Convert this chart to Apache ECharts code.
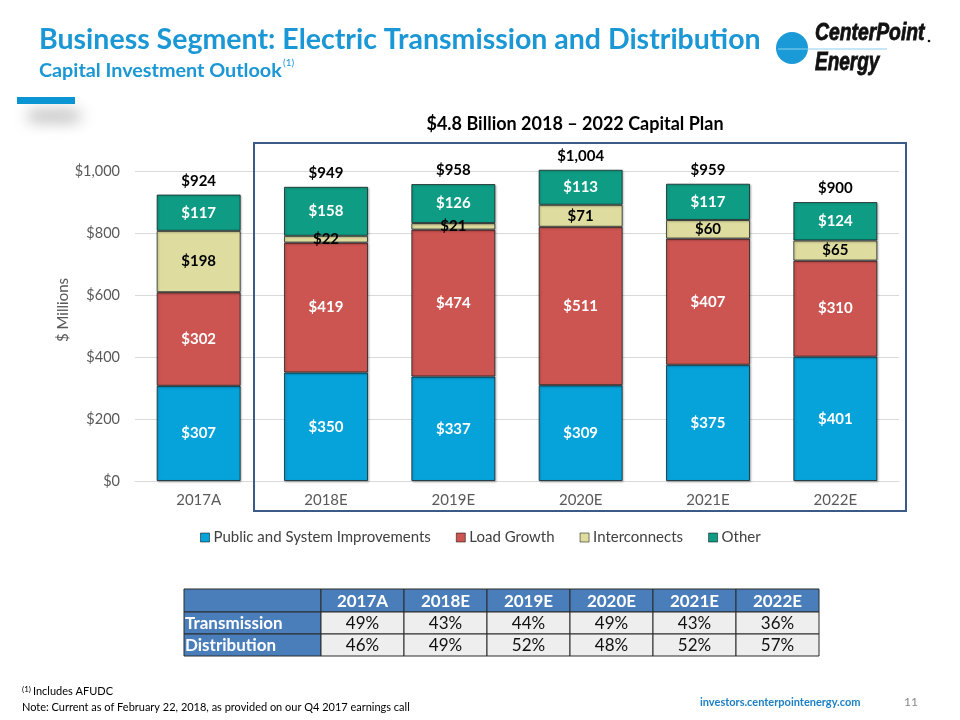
<!DOCTYPE html>
<html><head><meta charset="utf-8">
<script src="https://cdn.jsdelivr.net/npm/echarts@6/dist/echarts.min.js"></script>
<style>html,body{margin:0;padding:0;background:#fff}#c{width:960px;height:720px}</style>
</head><body><div id="c"></div>
<script>
// ---- data ----
const categories = ['2017A', '2018E', '2019E', '2020E', '2021E', '2022E'];
const seriesNames = ['Public and System Improvements', 'Load Growth', 'Interconnects', 'Other'];
const publicSystem = [307, 350, 337, 309, 375, 401];
const loadGrowth = [302, 419, 474, 511, 407, 310];
const interconnects = [198, 22, 21, 71, 60, 65];
const other = [117, 158, 126, 113, 117, 124];
const totals = [924, 949, 958, 1004, 959, 900];
const transmissionPct = ['49%', '43%', '44%', '49%', '43%', '36%'];
const distributionPct = ['46%', '49%', '52%', '48%', '52%', '57%'];
const tableRowNames = ['Transmission', 'Distribution'];

// ---- styling ----
const FONT = 'Lato, "Open Sans", sans-serif';
const colors = ['#06A2DA', '#CC5451', '#DEDC9F', '#0E9C84'];
const labelColors = ['#fff', '#fff', '#000', '#fff'];
const money = v => '$' + Number(v).toLocaleString('en-US');

const chart = echarts.init(document.getElementById('c'), null, {renderer: 'canvas'});

const seriesData = [publicSystem, loadGrowth, interconnects, other];
const series = seriesData.map((d, i) => ({
  name: seriesNames[i],
  type: 'bar',
  stack: 'capex',
  data: d,
  clip: false,
  barCategoryGap: '34%',
  barGap: '-100%',
  z: 3,
  itemStyle: {color: colors[i], borderColor: 'rgba(20,30,30,0.75)', borderWidth: 1,
    shadowColor: 'rgba(0,0,0,0.25)', shadowBlur: 2, shadowOffsetX: 1, shadowOffsetY: 1},
  label: {show: true, position: 'inside', formatter: p => money(p.value),
    color: labelColors[i], fontFamily: FONT, fontWeight: 'bold', fontSize: 15}
}));
series.push({
  name: 'Total', type: 'bar', data: totals, clip: false,
  barCategoryGap: '34%', barGap: '-100%', z: 1,
  itemStyle: {color: 'rgba(0,0,0,0)'},
  label: {show: true, position: 'top', distance: 6, formatter: p => money(p.value),
    color: '#000', fontFamily: FONT, fontWeight: 'bold', fontSize: 15},
  tooltip: {show: false}
});

// table graphics
const tbl = [];
const tX = 184, tY = 589, firstW = 137, colW = 83, rowH = [23, 22, 22];
const headerBg = '#4A7EBB', cellBg = '#EEEEEE', lineC = '#2b2b2b';
let yy = tY;
for (let r = 0; r < 3; r++) {
  let xx = tX;
  for (let c = 0; c < 7; c++) {
    const w = c === 0 ? firstW : colW;
    const isHead = r === 0 || c === 0;
    tbl.push({type: 'rect', shape: {x: xx, y: yy, width: w, height: rowH[r]},
      style: {fill: isHead ? headerBg : cellBg, stroke: lineC, lineWidth: 1}});
    let txt = '';
    if (r === 0 && c > 0) txt = categories[c - 1];
    if (r > 0 && c === 0) txt = tableRowNames[r - 1];
    if (r > 0 && c > 0) txt = (r === 1 ? transmissionPct : distributionPct)[c - 1];
    if (txt) {
      tbl.push({type: 'text', x: c === 0 ? xx + 1 : xx + w / 2, y: yy + rowH[r] / 2 + 1,
        style: {text: txt, textAlign: c === 0 ? 'left' : 'center', textVerticalAlign: 'middle',
          font: (isHead ? 'bold ' : '') + '17px ' + FONT, fill: isHead ? '#fff' : '#111'}});
    }
    xx += w;
  }
  yy += rowH[r];
}

const LOGO_FONT = '"Liberation Sans", Arial, sans-serif';
const graphics = [
  // title
  {type: 'text', x: 39, y: 40, style: {text: 'Business Segment: Electric Transmission and Distribution',
    textVerticalAlign: 'middle', font: 'bold 28.5px ' + FONT, fill: '#1A97D4'}},
  {type: 'text', x: 39, y: 71, style: {text: 'Capital Investment Outlook',
    textVerticalAlign: 'middle', font: 'bold 19.8px ' + FONT, fill: '#1A97D4'}},
  {type: 'text', x: 283, y: 63, style: {text: '(1)', textVerticalAlign: 'middle',
    font: '10px ' + FONT, fill: '#1A97D4'}},
  // decoration: soft shadow (shape drawn off-screen, only its shadow shows)
  {type: 'rect', shape: {x: 28, y: -200, width: 52, height: 8, r: 4},
    style: {fill: '#000', shadowBlur: 16, shadowColor: 'rgba(0,0,0,0.4)', shadowOffsetY: 312}},
  {type: 'rect', shape: {x: 17, y: 97, width: 58, height: 7}, style: {fill: '#0A95D2'}},
  // logo
  {type: 'circle', shape: {cx: 792, cy: 48, r: 16}, style: {fill: '#1A9AD6'}},
  {type: 'line', shape: {x1: 778, y1: 49, x2: 887, y2: 49}, style: {stroke: '#8ED0F0', lineWidth: 1.2}, z: 10},
  {type: 'text', x: 815, y: 34, scaleX: 0.84, style: {text: 'CenterPoint', textVerticalAlign: 'middle',
    font: 'italic bold 23px ' + LOGO_FONT, fill: '#111', stroke: '#111', lineWidth: 0.8}},
  {type: 'circle', shape: {cx: 929, cy: 41, r: 1.3}, style: {fill: '#111'}},
  {type: 'text', x: 815, y: 63, scaleX: 0.76, style: {text: 'Energy', textVerticalAlign: 'middle',
    font: 'italic bold 25px ' + LOGO_FONT, fill: '#111', stroke: '#111', lineWidth: 0.8}},
  // chart subtitle
  {type: 'text', x: 575, y: 124, style: {text: '$4.8 Billion 2018 \u2013 2022 Capital Plan',
    textAlign: 'center', textVerticalAlign: 'middle', font: 'bold 18px ' + FONT, fill: '#000'}},
  // frame
  {type: 'rect', shape: {x: 254, y: 143, width: 652, height: 368}, z: 5,
    style: {fill: 'none', stroke: '#3A5A88', lineWidth: 2}},
  // y axis title
  {type: 'text', x: 63, y: 310, rotation: Math.PI / 2, style: {text: '$ Millions',
    textAlign: 'center', textVerticalAlign: 'middle', font: '15px ' + FONT, fill: '#595959'}},
  // footnotes
  {type: 'text', x: 22, y: 689, style: {text: '(1)', textVerticalAlign: 'middle', font: '8px ' + FONT, fill: '#000'}},
  {type: 'text', x: 33, y: 691, scaleX: 0.915, style: {text: 'Includes AFUDC', textVerticalAlign: 'middle', font: '12px ' + FONT, fill: '#000'}},
  {type: 'text', x: 22, y: 707, scaleX: 0.915, style: {text: 'Note: Current as of February 22, 2018, as provided on our Q4 2017 earnings call',
    textVerticalAlign: 'middle', font: '12px ' + FONT, fill: '#000'}},
  {type: 'text', x: 700, y: 702, style: {text: 'investors.centerpointenergy.com', textVerticalAlign: 'middle',
    font: 'bold 11px ' + FONT, fill: '#1A7FC4'}},
  {type: 'text', x: 904, y: 702, style: {text: '11', textVerticalAlign: 'middle', font: '12px ' + FONT, fill: '#888'}}
].concat(tbl);

chart.setOption({
  animation: false,
  backgroundColor: '#fff',
  grid: {left: 135, right: 61, top: 171, bottom: 239, containLabel: false},
  legend: {
    data: seriesNames, left: 195, top: 525, itemWidth: 9, itemHeight: 9, itemGap: 25, icon: 'rect',
    textStyle: {fontFamily: FONT, fontSize: 15, color: '#404040', padding: [0, 0, 0, -1]},
    itemStyle: {borderColor: 'rgba(0,0,0,0.5)', borderWidth: 1}
  },
  xAxis: {
    type: 'category', data: categories,
    axisLine: {show: true, lineStyle: {color: '#D9D9D9'}},
    axisTick: {show: false},
    axisLabel: {fontFamily: FONT, fontSize: 15, color: '#595959', margin: 12}
  },
  yAxis: {
    type: 'value', min: 0, max: 1000, interval: 200,
    axisLine: {show: false}, axisTick: {show: false},
    splitLine: {lineStyle: {color: '#D9D9D9'}},
    axisLabel: {fontFamily: FONT, fontSize: 14.5, color: '#595959', margin: 15, formatter: v => money(v)}
  },
  series: series,
  graphic: graphics
});
</script></body></html>
